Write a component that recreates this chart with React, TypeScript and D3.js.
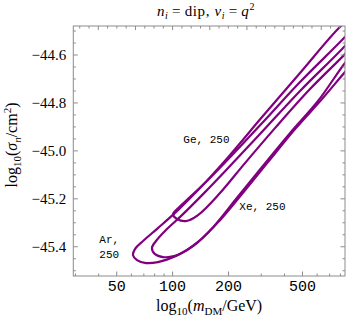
import { useEffect, useRef } from 'react'
import * as d3 from 'd3'

// contours: DM mass (GeV) and log10(sigma_n / cm^2), traced upper branch -> tip -> lower branch
const arMass = [923, 806, 485, 303, 199, 140.4, 106.9, 83.4, 69.3, 62.7, 61.2, 64.3, 71.9, 83.4, 104.3, 137.0, 179.9, 236.3, 326, 461, 637, 847, 958]
const arSigma = [-44.446, -44.479, -44.675, -44.859, -45.026, -45.155, -45.247, -45.322, -45.376, -45.41, -45.435, -45.456, -45.468, -45.464, -45.439, -45.38, -45.289, -45.18, -45.047, -44.905, -44.784, -44.671, -44.625]

const xeMass = [958, 847, 485, 295.3, 203.6, 149.4, 112.3, 92.1, 81.4, 77.4, 80.4, 88.8, 101.7, 128.8, 167.0, 219.4, 303, 428.2, 606, 847, 958]
const xeSigma = [-44.512, -44.562, -44.75, -44.93, -45.063, -45.172, -45.268, -45.33, -45.376, -45.405, -45.431, -45.443, -45.439, -45.397, -45.314, -45.201, -45.067, -44.926, -44.792, -44.633, -44.587]

const geMass = [958, 847, 485, 314.2, 216.6, 158.9, 124.0, 106.9, 100.5, 105.6, 118.0, 137.0, 179.9, 245.2, 355.6, 548.9, 847, 958]
const geSigma = [-44.479, -44.525, -44.713, -44.871, -45.005, -45.113, -45.193, -45.239, -45.264, -45.284, -45.293, -45.268, -45.176, -45.051, -44.905, -44.742, -44.596, -44.55]

const xTicks = [50, 100, 200, 500]
const xMinorTicks = [30, 40, 60, 70, 80, 90, 300, 400, 600, 700, 800]
const yTicks = [-45.4, -45.2, -45.0, -44.8, -44.6]

const labelText = [['Ge, 250'], ['Xe, 250'], ['Ar,', '250']]
const labelMass = [114.2, 228.5, 40.3]
const labelSigma = [-44.966, -45.247, -45.386]

const App = () => {
	const svgRef = useRef(null)

	useEffect(() => {
		const width = 346
		const height = 319
		const margin = { top: 26, right: 1, bottom: 43, left: 73.3 }

		const x = d3.scaleLog().domain([29.2, 847]).range([margin.left, width - margin.right])
		const y = d3.scaleLinear().domain([-45.522, -44.479]).range([height - margin.bottom, margin.top])

		const svg = d3.select(svgRef.current)
		svg.selectAll('*').remove()
		svg.attr('width', width).attr('height', height)

		const x0 = x.range()[0]
		const x1 = x.range()[1]
		const y0 = y.range()[0]
		const y1 = y.range()[1]

		svg.append('defs').append('clipPath').attr('id', 'plot-clip')
			.append('rect').attr('x', x0).attr('y', y1).attr('width', x1 - x0).attr('height', y0 - y1)

		// contours
		const line = d3.line().curve(d3.curveCatmullRom.alpha(0.5))
		const contours = [
			[arMass, arSigma],
			[xeMass, xeSigma],
			[geMass, geSigma],
		]
		const g = svg.append('g').attr('clip-path', 'url(#plot-clip)')
		contours.forEach(([ms, ss]) => {
			g.append('path')
				.attr('d', line(ms.map((m, i) => [x(m), y(ss[i])])))
				.attr('fill', 'none')
				.attr('stroke', '#800080')
				.attr('stroke-width', 2.2)
				.attr('stroke-linejoin', 'round')
		})

		// frame
		const frameColor = '#8c8c8c'
		svg.append('rect')
			.attr('x', x0).attr('y', y1).attr('width', x1 - x0).attr('height', y0 - y1)
			.attr('fill', 'none').attr('stroke', frameColor).attr('stroke-width', 1)

		const tick = (x1_, y1_, x2_, y2_) => {
			svg.append('line')
				.attr('x1', x1_).attr('y1', y1_).attr('x2', x2_).attr('y2', y2_)
				.attr('stroke', frameColor).attr('stroke-width', 1)
		}

		// bottom ticks (log)
		xTicks.forEach((t) => tick(x(t), y0, x(t), y0 - 4.5))
		xMinorTicks.forEach((t) => tick(x(t), y0, x(t), y0 - 2.5))
		svg.append('g').selectAll('text').data(xTicks).enter().append('text')
			.attr('x', (d) => x(d))
			.attr('y', y0 + 15)
			.attr('text-anchor', 'middle')
			.style('font-family', '"Liberation Mono", monospace')
			.style('font-size', '15px')
			.text((d) => d)

		// top ticks, linear in log10(m)
		d3.range(1.5, 2.95, 0.05).forEach((v) => {
			const px = x(Math.pow(10, v))
			if (px < x0 + 1 || px > x1 - 1) return
			const major = Math.abs(v * 5 - Math.round(v * 5)) < 1e-6
			tick(px, y1, px, y1 + (major ? 4 : 2.5))
		})

		// left and right ticks
		d3.range(-45.5, -44.45, 0.05).forEach((v) => {
			const py = y(v)
			if (py > y0 - 1 || py < y1 + 1) return
			const major = Math.abs(v * 5 - Math.round(v * 5)) < 1e-6
			const len = major ? 4.5 : 2.5
			tick(x0, py, x0 + len, py)
			tick(x1, py, x1 - len, py)
		})
		svg.append('g').selectAll('text').data(yTicks).enter().append('text')
			.attr('x', x0 - 7)
			.attr('y', (d) => y(d) + 5)
			.attr('text-anchor', 'end')
			.style('font-family', '"Liberation Serif", serif')
			.style('font-size', '15px')
			.text((d) => d3.format('.1f')(d))

		// curve labels
		labelText.forEach((lines, i) => {
			const t = svg.append('text')
				.attr('x', x(labelMass[i]))
				.attr('y', y(labelSigma[i]))
				.style('font-family', '"Liberation Mono", monospace')
				.style('font-size', '11px')
			lines.forEach((s, j) => {
				t.append('tspan').attr('x', x(labelMass[i])).attr('dy', j === 0 ? 0 : 15).text(s)
			})
		})

		// title
		const title = svg.append('text')
			.attr('x', 206)
			.attr('y', 16)
			.attr('text-anchor', 'middle')
			.style('font-family', '"Liberation Serif", serif')
			.style('font-size', '15px')
			.style('letter-spacing', '0.6px')
		title.append('tspan').style('font-style', 'italic').text('n')
		title.append('tspan').style('font-style', 'italic').style('font-size', '10px').attr('dy', 3).text('i')
		title.append('tspan').attr('dy', -3).text('\u2009=\u2009dip, ')
		title.append('tspan').style('font-style', 'italic').text('ν')
		title.append('tspan').style('font-style', 'italic').style('font-size', '10px').attr('dy', 3).text('i')
		title.append('tspan').attr('dy', -3).text('\u2009=\u2009')
		title.append('tspan').style('font-style', 'italic').text('q')
		title.append('tspan').style('font-size', '10px').attr('dy', -6).text('2')

		// x label
		const xl = svg.append('text')
			.attr('x', (x0 + x1) / 2)
			.attr('y', 311)
			.attr('text-anchor', 'middle')
			.style('font-family', '"Liberation Serif", serif')
			.style('font-size', '16px')
		xl.append('tspan').text('log')
		xl.append('tspan').style('font-size', '11px').attr('dy', 4).text('10')
		xl.append('tspan').attr('dy', -4).text('(')
		xl.append('tspan').style('font-style', 'italic').text('m')
		xl.append('tspan').style('font-size', '11px').attr('dy', 4).text('DM')
		xl.append('tspan').attr('dy', -4).text('/GeV)')

		// y label
		const yl = svg.append('text')
			.attr('transform', `translate(17,${(y0 + y1) / 2 - 6}) rotate(-90)`)
			.attr('text-anchor', 'middle')
			.style('font-family', '"Liberation Serif", serif')
			.style('font-size', '16px')
		yl.append('tspan').text('log')
		yl.append('tspan').style('font-size', '11px').attr('dy', 4).text('10')
		yl.append('tspan').attr('dy', -4).text('(')
		yl.append('tspan').style('font-style', 'italic').text('σ')
		yl.append('tspan').style('font-style', 'italic').style('font-size', '11px').attr('dy', 4).text('n')
		yl.append('tspan').attr('dy', -4).text('/cm')
		yl.append('tspan').style('font-size', '11px').attr('dy', -6).text('2')
		yl.append('tspan').attr('dy', 6).text(')')
	}, [])

	return <svg ref={svgRef} style={{ position: 'absolute', left: 0, top: 0 }}></svg>
}

export default App
